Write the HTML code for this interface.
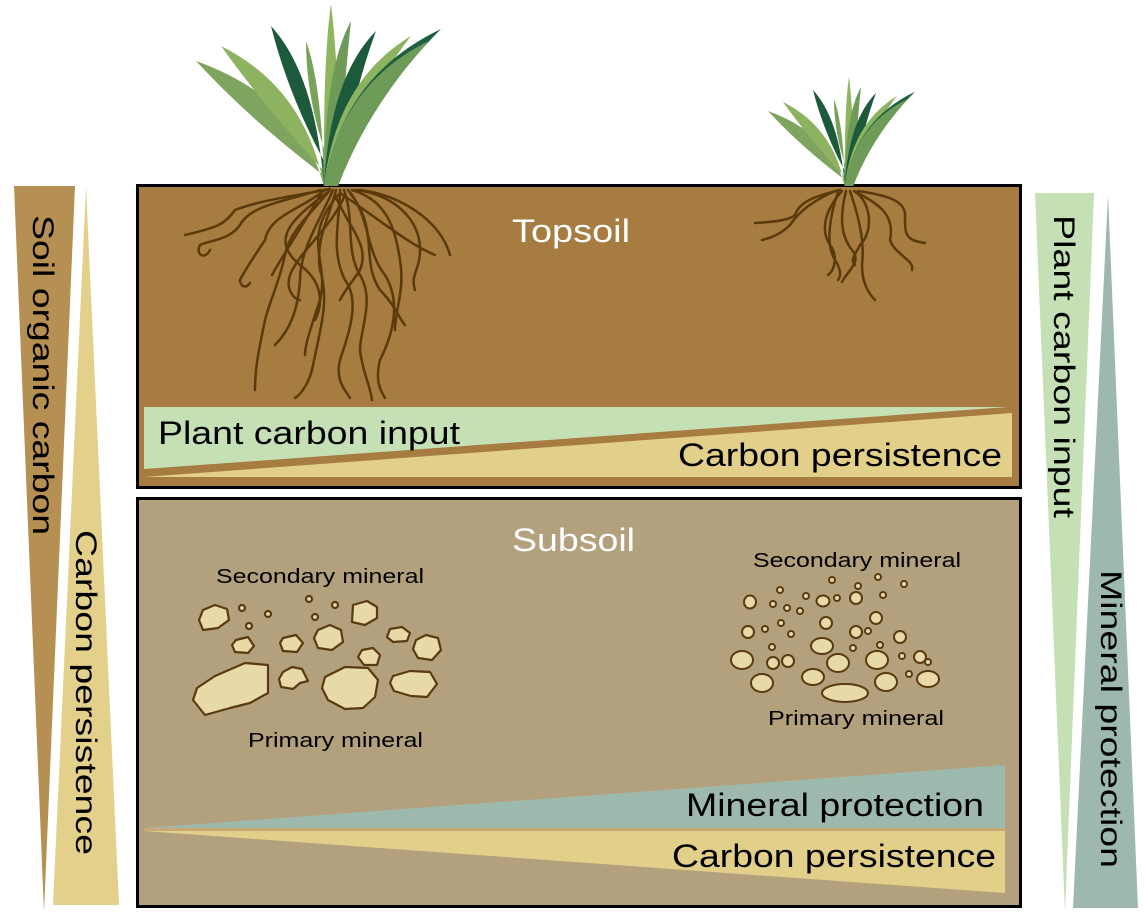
<!DOCTYPE html>
<html><head><meta charset="utf-8"><style>
html,body{margin:0;padding:0;background:#fff;}
svg{display:block;font-family:"Liberation Sans",sans-serif;}
</style></head><body>
<svg width="1144" height="918" viewBox="0 0 1144 918" xmlns="http://www.w3.org/2000/svg">
<defs>
<g id="plant">
<path d="M-2,0 Q-26,-87.5 -130,-125 Q-70,-60 12,0 Z" fill="#7ea45f"/>
<path d="M-2,0 Q-21,-98 -105,-140 Q-55,-70 12,0 Z" fill="#8db360"/>
<path d="M-2,0 Q-11,-112 -55,-160 Q-35,-80 12,0 Z" fill="#1d5a3c"/>
<path d="M-2,0 Q-4,-101.5 -20,-145 Q-20,-75 12,0 Z" fill="#79a259"/>
<path d="M-2,0 Q-3,-127.4 5,-182 Q14,-110 12,0 Z" fill="#8fb65f"/>
<path d="M-2,0 Q-2,-115.5 25,-165 Q18,-100 12,0 Z" fill="#6e9a57"/>
<path d="M-2,0 Q4,-108.5 50,-155 Q26,-90 12,0 Z" fill="#1d5a3c"/>
<path d="M-2,0 Q10,-105 85,-150 Q34,-85 12,0 Z" fill="#8db360"/>
<path d="M-2,0 Q16,-110 115,-157 Q44,-86 12,0 Z" fill="#1f6040"/>
<path d="M-2,0 Q14,-101.5 103,-145 Q42,-78 12,0 Z" fill="#6f9b58"/>
</g>
</defs>

<polygon points="14,186 75,186 44,912" fill="#b68f52"/>
<polygon points="86,186 119,905 53,905" fill="#e3d08b"/>
<text transform="translate(33,215) rotate(90)" font-size="30" textLength="320" lengthAdjust="spacingAndGlyphs" fill="#000">Soil organic carbon</text>
<text transform="translate(76,530) rotate(90)" font-size="30" textLength="325" lengthAdjust="spacingAndGlyphs" fill="#000">Carbon persistence</text>

<polygon points="1035,193 1094,193 1065,912" fill="#c5e0b5"/>
<polygon points="1108,195 1138,908 1073,908" fill="#9db9ad"/>
<text transform="translate(1054,215) rotate(90)" font-size="30" textLength="303" lengthAdjust="spacingAndGlyphs" fill="#000">Plant carbon input</text>
<text transform="translate(1101,570) rotate(90)" font-size="30" textLength="298" lengthAdjust="spacingAndGlyphs" fill="#000">Mineral protection</text>

<rect x="137.5" y="185.5" width="883" height="302" fill="#a67c40" stroke="#000" stroke-width="3"/>
<polygon points="144,407 1008,407 144,469" fill="#c5e0b5"/>
<polygon points="1012,413 1012,477 144,477" fill="#e2d08a"/>
<text x="158" y="444" font-size="32" textLength="302" lengthAdjust="spacingAndGlyphs">Plant carbon input</text>
<text x="678" y="466" font-size="32" textLength="324" lengthAdjust="spacingAndGlyphs">Carbon persistence</text>
<text x="512" y="242" font-size="32" fill="#fff" textLength="118" lengthAdjust="spacingAndGlyphs">Topsoil</text>

<rect x="137.5" y="498.5" width="883" height="408" fill="#b3a07c" stroke="#000" stroke-width="3"/>
<polygon points="144,828 1005,765 1005,828" fill="#9db9ad"/>
<rect x="144" y="828" width="861" height="3" fill="#c9a874"/>
<polygon points="144,831 1005,831 1005,893" fill="#e2d08a"/>
<text x="686" y="816" font-size="32" textLength="298" lengthAdjust="spacingAndGlyphs">Mineral protection</text>
<text x="672" y="867" font-size="32" textLength="324" lengthAdjust="spacingAndGlyphs">Carbon persistence</text>
<text x="512" y="551" font-size="32" fill="#fff" textLength="123" lengthAdjust="spacingAndGlyphs">Subsoil</text>

<use href="#plant" transform="translate(326,186)"/>
<use href="#plant" transform="translate(846,186) scale(0.6)"/>

<g fill="none" stroke="#5a3a0a" stroke-width="2.5" stroke-linecap="round">
<path d="M330,189 C300,195 260,200 235,210 C225,225 215,228 185,235"/>
<path d="M320,190 C290,200 250,205 240,225 C230,240 210,240 200,245 C195,255 205,260 210,250"/>
<path d="M325,190 C300,210 270,215 265,240 C255,255 245,270 240,280 C240,285 245,290 250,283"/>
<path d="M330,190 C310,215 290,230 285,255 C280,280 270,300 265,320 C260,345 255,365 255,390"/>
<path d="M333,190 C320,220 300,250 300,280 C298,310 290,330 275,345"/>
<path d="M336,190 C330,215 315,240 320,270 C330,300 320,330 312,370 C308,385 300,395 295,398"/>
<path d="M340,190 C340,220 330,250 345,280 C360,300 350,330 340,360 C335,380 345,390 350,398"/>
<path d="M344,190 C355,220 345,250 360,275 C375,300 360,330 360,350 C362,370 370,385 372,400"/>
<path d="M348,190 C370,215 365,250 385,275 C400,300 395,330 380,360 C375,380 380,390 385,398"/>
<path d="M352,190 C385,200 395,225 400,260 C405,290 395,310 395,330"/>
<path d="M356,190 C395,195 420,220 420,250 C420,270 410,275 415,290"/>
<path d="M360,190 C400,195 440,220 450,255"/>
<path d="M345,195 C330,230 300,250 290,275 C285,290 295,300 300,300"/>
<path d="M335,195 C350,230 370,245 360,270 C350,285 345,290 340,300"/>
<path d="M328,192 C290,220 270,240 300,265 C320,280 325,300 315,320"/>
<path d="M340,193 C380,220 410,245 435,255"/>
<path d="M350,193 C380,230 360,260 380,290 C395,305 400,320 405,325"/>
<path d="M322,192 C300,230 280,260 272,275"/>
<path d="M338,195 C300,240 330,260 320,300 C310,330 305,345 305,355"/>
</g>
<g fill="none" stroke="#5a3a0a" stroke-width="2.5" stroke-linecap="round">
<path d="M840,190 C820,195 800,200 795,215 C790,220 775,222 755,223"/>
<path d="M835,191 C815,200 800,210 790,225 C780,235 770,238 762,240"/>
<path d="M842,191 C825,210 820,230 830,245 C838,255 835,270 828,275"/>
<path d="M846,191 C840,215 840,235 852,250 C862,262 848,270 842,282"/>
<path d="M850,191 C858,215 865,240 862,265 C862,285 870,295 875,300"/>
<path d="M854,191 C870,200 875,230 860,245 C855,255 850,260 855,265"/>
<path d="M858,191 C885,195 905,200 905,215 C905,235 905,240 925,243"/>
<path d="M856,192 C880,205 895,215 890,240 C895,255 915,260 912,270"/>
<path d="M838,192 C830,215 825,245 835,260 C840,268 842,275 838,280"/>
</g>

<g fill="#e8d9a9" stroke="#5a3a10" stroke-width="2.2" stroke-linejoin="round">
<polygon points="203,610 215,605 227,609 229,620 218,628 203,630 199,620"/>
<polygon points="236,640 248,637 254,646 248,653 235,652 232,645"/>
<polygon points="283,638 296,635 303,643 297,652 283,651 280,643"/>
<polygon points="318,630 330,625 341,630 343,642 332,650 318,648 314,638"/>
<polygon points="353,605 367,601 377,607 377,618 365,625 352,622"/>
<polygon points="390,629 402,627 410,633 407,641 393,642 387,637"/>
<polygon points="416,640 426,635 438,638 441,650 432,660 418,658 413,649"/>
<polygon points="362,650 373,648 380,655 377,665 364,665 358,657"/>
<polygon points="215,676 245,663 268,665 268,693 250,703 230,708 205,715 193,700 197,688"/>
<polygon points="283,672 292,667 302,669 308,681 300,683 293,689 281,687 279,679"/>
<polygon points="325,677 345,667 368,668 378,680 375,697 363,708 345,709 328,700 322,688"/>
<polygon points="393,676 410,671 430,672 437,684 427,697 411,696 394,691 390,683"/>
<circle cx="242" cy="608" r="3"/><circle cx="268" cy="614" r="3"/><circle cx="249" cy="626" r="3"/>
<circle cx="309" cy="599" r="3"/><circle cx="335" cy="605" r="3"/><circle cx="315" cy="617" r="3"/>
</g>
<g fill="#e8d9a9" stroke="#5a3a10" stroke-width="2">
<ellipse cx="750" cy="602" rx="6" ry="6.5"/><ellipse cx="823" cy="601" rx="6.5" ry="5.5"/>
<ellipse cx="856" cy="598" rx="6" ry="6"/><ellipse cx="826" cy="623" rx="6" ry="6"/>
<ellipse cx="876" cy="618" rx="6" ry="6"/><ellipse cx="748" cy="632" rx="6" ry="6"/>
<ellipse cx="856" cy="632" rx="6" ry="6"/><ellipse cx="900" cy="637" rx="6" ry="6"/>
<ellipse cx="822" cy="646" rx="11" ry="8"/><ellipse cx="742" cy="660" rx="11" ry="9"/>
<ellipse cx="773" cy="663" rx="6" ry="6"/><ellipse cx="788" cy="661" rx="6" ry="6"/>
<ellipse cx="838" cy="663" rx="11" ry="9"/><ellipse cx="877" cy="660" rx="11" ry="9"/>
<ellipse cx="920" cy="657" rx="6" ry="6"/><ellipse cx="762" cy="683" rx="11" ry="9"/>
<ellipse cx="813" cy="677" rx="11" ry="8"/><ellipse cx="845" cy="693" rx="23" ry="9"/>
<ellipse cx="886" cy="682" rx="11" ry="9"/><ellipse cx="928" cy="679" rx="11" ry="8"/>
<circle cx="832" cy="580" r="3"/><circle cx="858" cy="586" r="3"/><circle cx="878" cy="577" r="3"/>
<circle cx="904" cy="584" r="3"/><circle cx="780" cy="590" r="3"/><circle cx="806" cy="596" r="3"/>
<circle cx="837" cy="598" r="3"/><circle cx="883" cy="595" r="3"/><circle cx="773" cy="604" r="3"/>
<circle cx="787" cy="608" r="3"/><circle cx="800" cy="611" r="3"/><circle cx="781" cy="623" r="3"/>
<circle cx="765" cy="629" r="3"/><circle cx="791" cy="634" r="3"/><circle cx="868" cy="631" r="3"/>
<circle cx="772" cy="647" r="3"/><circle cx="853" cy="648" r="3"/><circle cx="880" cy="645" r="3"/>
<circle cx="902" cy="656" r="3"/><circle cx="928" cy="662" r="3"/><circle cx="909" cy="674" r="3"/>
</g>

<g font-size="20" fill="#000">
<text x="216" y="583" textLength="208" lengthAdjust="spacingAndGlyphs">Secondary mineral</text>
<text x="248" y="747" textLength="175" lengthAdjust="spacingAndGlyphs">Primary mineral</text>
<text x="753" y="567" textLength="208" lengthAdjust="spacingAndGlyphs">Secondary mineral</text>
<text x="768" y="725" textLength="176" lengthAdjust="spacingAndGlyphs">Primary mineral</text>
</g>
</svg>
</body></html>
